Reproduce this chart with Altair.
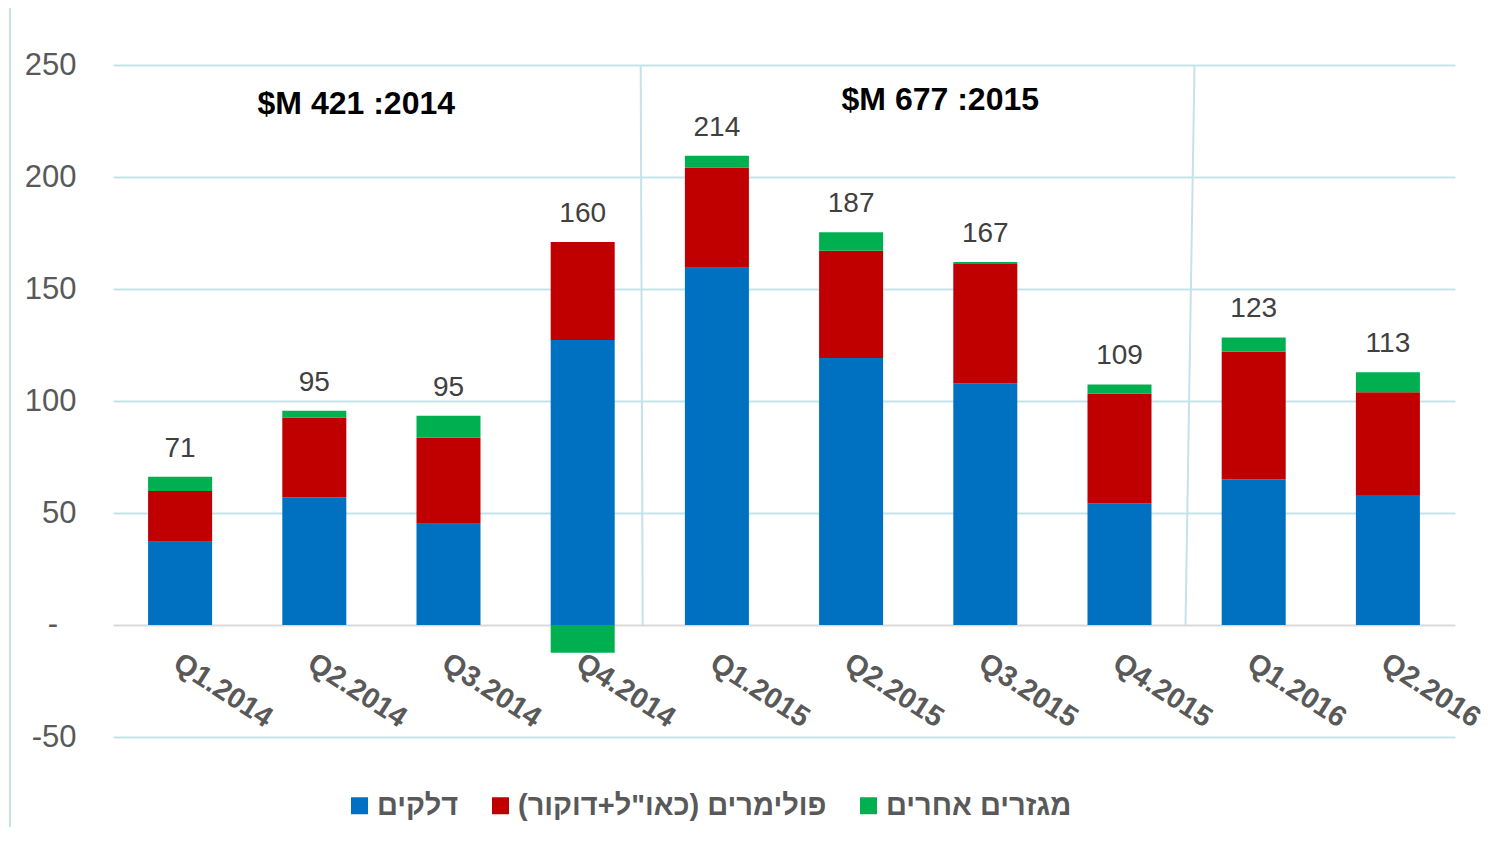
import altair as alt
import pandas as pd

# ---------------- data ----------------
categories = ["Q1.2014", "Q2.2014", "Q3.2014", "Q4.2014", "Q1.2015",
              "Q2.2015", "Q3.2015", "Q4.2015", "Q1.2016", "Q2.2016"]
fuels = [37.2, 57.0, 45.2, 127.2, 159.5, 119.2, 107.9, 54.3, 65.0, 58.0]
polymers = [22.6, 35.6, 38.4, 43.8, 44.7, 47.9, 53.3, 49.0, 57.0, 45.9]
others = [6.4, 3.1, 9.8, -12.4, 5.3, 8.2, 0.9, 4.1, 6.4, 8.9]
total_labels = [71, 95, 95, 160, 214, 187, 167, 109, 123, 113]

series_names = ["דלקים", "פולימרים (כאו\"ל+דוקור)\u200f", "מגזרים אחרים"]
series_colors = ["#0070C0", "#C00000", "#00B050"]

year_notes = ["$M 421 :2014", "$M 677 :2015"]
year_note_cats = ["Q2.2014", "Q3.2015"]
year_note_y = [232.5, 234.5]

divider_cats = ["Q4.2014", "Q4.2015"]

y_ticks = [-50, 0, 50, 100, 150, 200, 250]
zero_label = "-"

# ---------------- tables ----------------
rows = []
for i, c in enumerate(categories):
    for k, (name, vals) in enumerate(zip(series_names, [fuels, polymers, others])):
        rows.append({"cat": c, "series": name, "value": vals[i], "ord": k})
df = pd.DataFrame(rows)

lab = pd.DataFrame({
    "cat": categories,
    "top": [f + p + max(o, 0) for f, p, o in zip(fuels, polymers, others)],
    "label": [str(v) for v in total_labels],
})

FONT = "Liberation Sans, Arial, sans-serif"
GRID = "#C3E3E9"
W, H = 1342, 672

x_scale = alt.Scale(paddingInner=0.523, paddingOuter=0.2615)
x_axis = alt.Axis(
    labelAngle=33, labelAlign="left", labelBaseline="top",
    labelFontSize=29, labelFontWeight="bold", labelColor="#595959",
    labelFont=FONT, labelPadding=23, labelOffset=4,
    domain=False, ticks=False, grid=False, offset=-112,
)
y_scale = alt.Scale(domain=[-50, 250], nice=False)
y_axis = alt.Axis(
    values=y_ticks,
    labelExpr="datum.value === 0 ? '' : '' + datum.value",
    labelFontSize=31, labelColor="#595959", labelFont=FONT, labelPadding=37,
    domain=False, ticks=False, grid=True,
    gridColor=alt.condition("datum.value === 0", alt.value("#D9D9D9"), alt.value(GRID)),
    gridWidth=2,
)


def xenc(**kw):
    return alt.X("cat:N", sort=categories, scale=x_scale, axis=x_axis, title=None, **kw)


def yenc(field):
    return alt.Y(field, scale=y_scale, axis=y_axis, title=None)


bars = alt.Chart(df).mark_bar().encode(
    x=xenc(),
    y=alt.Y("value:Q", stack="zero", scale=y_scale, axis=y_axis, title=None),
    color=alt.Color(
        "series:N",
        scale=alt.Scale(domain=series_names, range=series_colors),
        legend=alt.Legend(
            orient="none", legendX=232, legendY=726, direction="horizontal",
            title=None, symbolType="square", symbolSize=289, symbolStrokeWidth=0,
            labelFont=FONT, labelFontSize=29, labelFontWeight="bold",
            labelColor="#595959", labelOffset=3, columnPadding=27, labelLimit=600,
        ),
    ),
    order=alt.Order("ord:Q", sort="ascending"),
)

labels = alt.Chart(lab).mark_text(
    font=FONT, fontSize=28, color="#404040", dy=-28, baseline="middle"
).encode(x=xenc(), y=yenc("top:Q"), text="label:N")

zero_tick = alt.Chart(pd.DataFrame({"v": [0], "t": [zero_label]})).mark_text(
    font=FONT, fontSize=31, color="#595959", baseline="middle", align="center"
).encode(x=alt.value(-60), y=yenc("v:Q"), text="t:N")

layers = [bars, labels, zero_tick]

offsets = [42, -45]
for note, c, yv, off in zip(year_notes, year_note_cats, year_note_y, offsets):
    nd = pd.DataFrame({"cat": [c], "y": [yv], "t": [note]})
    layers.append(
        alt.Chart(nd).mark_text(
            font=FONT, fontSize=32, fontWeight="bold", color="#000000",
            baseline="middle", xOffset=off,
        ).encode(x=xenc(), y=yenc("y:Q"), text="t:N")
    )

div_offsets = [(58, 60), (75, 66)]
for c, (o1, o2) in zip(divider_cats, div_offsets):
    dd = pd.DataFrame({"cat": [c], "y": [250], "y0": [0]})
    layers.append(
        alt.Chart(dd).mark_rule(color=GRID, strokeWidth=2, xOffset=o1, x2Offset=o2).encode(
            x=xenc(), x2=alt.X2("cat"), y=yenc("y:Q"), y2=alt.Y2("y0")
        )
    )

border = alt.Chart(pd.DataFrame({"a": [0]})).mark_rule(color=GRID, strokeWidth=2).encode(
    x=alt.value(-103), y=alt.value(-57), y2=alt.value(762)
)
layers.append(border)

chart = alt.layer(*layers).properties(
    width=W, height=H,
    autosize=alt.AutoSizeParams(type="none"),
    padding={"left": 105, "top": 57, "right": 34, "bottom": 95},
    background="white",
).configure_view(strokeWidth=0)

chart.save("out.html", embed_options={"renderer": "svg", "actions": False})
